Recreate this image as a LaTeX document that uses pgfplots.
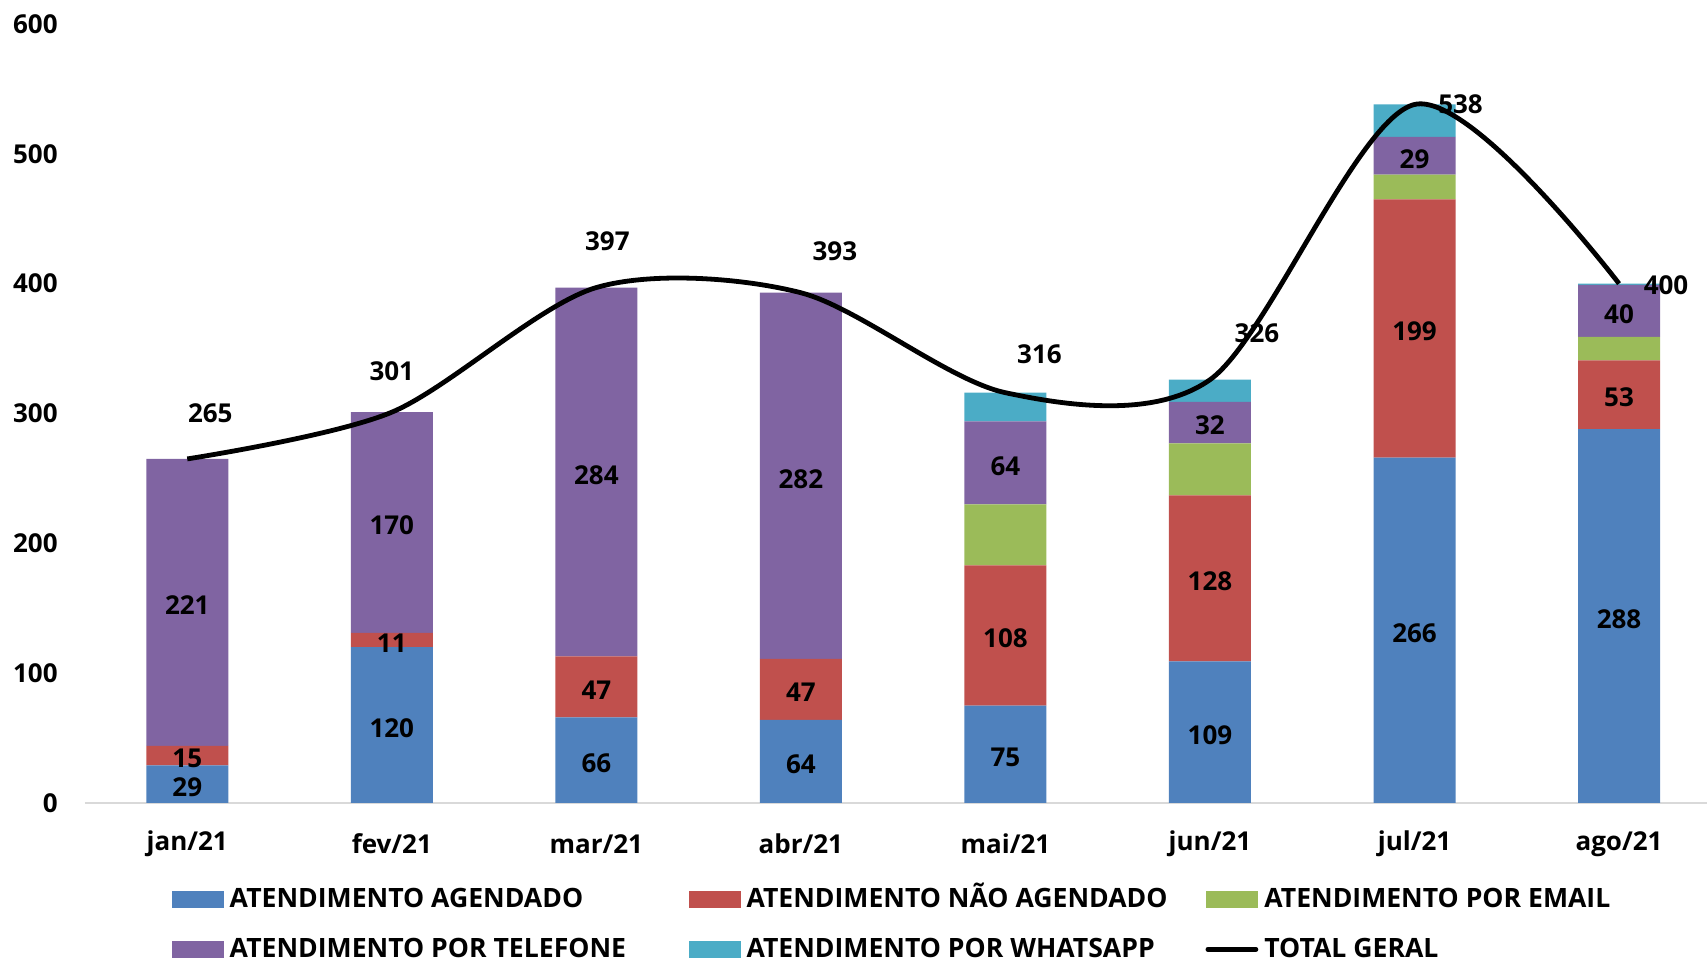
\documentclass[border=0pt]{standalone}
\usepackage{fontspec}
\setmainfont{Open Sans}
\usepackage{pgfplots}
\usepackage{pgfplotstable}
\pgfplotsset{compat=1.18}
\definecolor{cA}{HTML}{4F81BD}
\definecolor{cB}{HTML}{C0504D}
\definecolor{cC}{HTML}{9BBB59}
\definecolor{cD}{HTML}{8064A2}
\definecolor{cE}{HTML}{4BACC6}
\definecolor{axgray}{HTML}{D9D9D9}

\pgfplotstableread{
x ag nag email tel wpp total dx dy
0 29 15 0 221 0 265 11.5 23
1 120 11 0 170 0 301 0 20.5
2 66 47 0 284 0 397 5.5 23
3 64 47 0 282 0 393 17 21
4 75 108 47 64 22 316 17 19
5 109 128 40 32 17 326 23.5 23.5
6 266 199 19 29 25 538 23 0
7 288 53 18 40 1 400 23.5 -1
}\data

\newcommand{\lbl}[1]{\makebox[229.5pt][l]{#1}}
\newcommand{\bigbf}{\bfseries\fontsize{13}{15}\selectfont}
\newcommand{\legbf}{\bfseries\fontsize{13.3}{15}\selectfont}

\pgfplotsset{
  /pgf/number format/assume math mode=true,
  common/.style={
    scale only axis, width=811pt, height=389.5pt,
    xmin=-0.5, xmax=7.43, ymin=0, ymax=600,
    at={(0,0)}, anchor=south west, clip=false,
  },
  seglabel/.style={
    nodes near coords, point meta=explicit,
    every node near coord/.append style={anchor=center, font=\bigbf, text=black, yshift=-1.5pt},
  },
}

\begin{document}
\begin{tikzpicture}
\begin{axis}[common, name=ax,
  ybar stacked, bar width=41pt,
  axis x line*=bottom, axis y line*=left,
  axis line style={-},
  x axis line style={draw=axgray, line width=1pt},
  y axis line style={draw=none},
  xtick={0,...,7},
  xticklabels={jan/21,fev/21,mar/21,abr/21,mai/21,jun/21,jul/21,ago/21},
  ytick={0,100,...,600},
  major tick length=0pt,
  tick label style={font=\bigbf},
  xticklabel style={anchor=center, yshift=-20.5pt},
  yticklabel style={anchor=east, inner sep=0pt, xshift=-13.5pt},
]
\addplot[fill=cA, draw=none, seglabel] table[x=x, y=ag, meta=ag]{\data};
\addplot[fill=cB, draw=none, seglabel] table[x=x, y=nag, meta=nag]{\data};
\addplot[fill=cC, draw=none] table[x=x, y=email]{\data};
\addplot[fill=cD, draw=none, seglabel] table[x=x, y=tel, meta=tel]{\data};
\addplot[fill=cE, draw=none] table[x=x, y=wpp]{\data};
\end{axis}

\begin{axis}[common, hide axis,
  legend columns=3,
  legend style={at={(0.0536,-0.110)}, anchor=north west, draw=none, fill=none,
    inner sep=0pt, outer sep=0pt, row sep=14.6pt,
    font=\legbf,
    nodes={inner sep=0pt, text height=9.5pt, text depth=1pt},
    /tikz/every odd column/.append style={column sep=3pt}},
  legend cell align=left,
]
\addlegendimage{legend image code/.code={\fill[cA] (0pt,-4pt) rectangle (25.5pt,4pt);}}
\addlegendentry{\lbl{ATENDIMENTO AGENDADO}}
\addlegendimage{legend image code/.code={\fill[cB] (0pt,-4pt) rectangle (25.5pt,4pt);}}
\addlegendentry{\lbl{ATENDIMENTO NÃO AGENDADO}}
\addlegendimage{legend image code/.code={\fill[cC] (0pt,-4pt) rectangle (25.5pt,4pt);}}
\addlegendentry{\lbl{ATENDIMENTO POR EMAIL}}
\addlegendimage{legend image code/.code={\fill[cD] (0pt,-4pt) rectangle (25.5pt,4pt);}}
\addlegendentry{\lbl{ATENDIMENTO POR TELEFONE}}
\addlegendimage{legend image code/.code={\fill[cE] (0pt,-4pt) rectangle (25.5pt,4pt);}}
\addlegendentry{\lbl{ATENDIMENTO POR WHATSAPP}}
\addplot[black, line width=2.4pt, smooth, tension=0.5,
  legend image code/.code={\draw[black, line width=2.4pt, line cap=round] (1pt,0pt) -- (25pt,0pt);},
  nodes near coords, point meta=explicit,
  visualization depends on={\thisrow{dx} \as \dx},
  visualization depends on={\thisrow{dy} \as \dy},
  every node near coord/.append style={anchor=center, font=\bigbf, text=black,
    xshift=\dx pt, yshift=\dy pt},
] table[x=x, y=total, meta=total]{\data};
\addlegendentry{\lbl{TOTAL GERAL}}
\end{axis}

\pgfresetboundingbox
\path (ax.south west) ++(-42.5pt,-78.5pt) rectangle ([yshift=12pt]ax.north east);
\end{tikzpicture}
\end{document}
